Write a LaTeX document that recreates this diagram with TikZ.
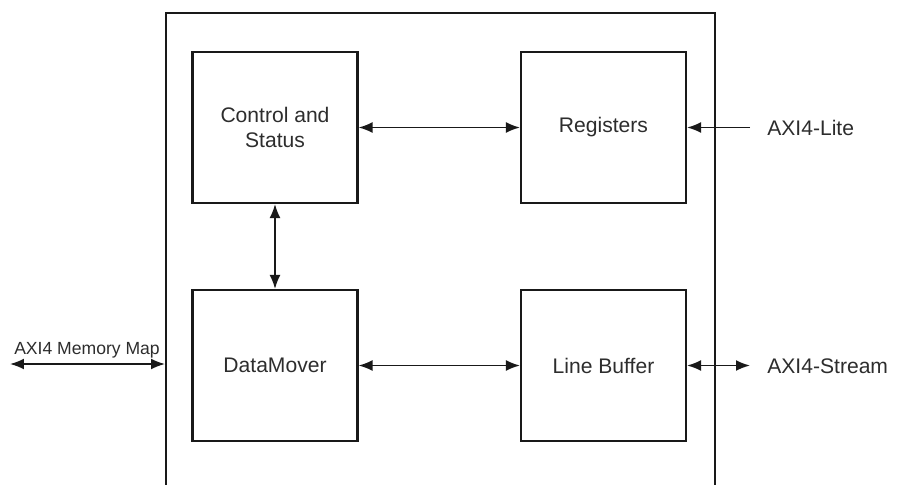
\documentclass[tikz,border=0pt]{standalone}
\usepackage{fontspec}
\setmainfont{Liberation Sans}
\usetikzlibrary{arrows.meta}

\definecolor{axiline}{RGB}{25, 25, 25}
\definecolor{axitext}{RGB}{45, 45, 45}

\begin{document}
\begin{tikzpicture}[
    x=0.02cm, y=-0.02cm,
    font=\fontsize{12}{14.4}\selectfont,
    text=axitext,
    block/.style={draw=axiline, line width=1.2pt, minimum width=3.3cm,
      minimum height=3.02cm, align=center},
    link/.style={draw=axiline, line width=1pt,
      >={Latex[length=2.8mm, width=2.2mm]}},
  ]
    \useasboundingbox (0, 0) rectangle (916, 484);

    % --- outer core frame, runs off the bottom edge ---
    \node[draw=axiline, line width=1.2pt, minimum width=10.98cm,
      minimum height=10.14cm] (core) at (440.5, 266.5) {};

    % --- inner blocks: 2x2 ---
    \node[block] (ctrl) at (275, 127.5) {Control and\\Status};
    \node[block] (regs) at (603.5, 127.5) {Registers};
    \node[block] (dm)   at (275, 365.5) {DataMover};
    \node[block] (lb)   at (603.5, 365.5) {Line Buffer};

    \draw[link, <->] (ctrl) -- (regs);
    \draw[link, <->] (ctrl) -- (dm);
    \draw[link, <->] (dm) -- (lb);

    % --- external interfaces ---
    \coordinate (liteIn) at (750, 127.5);
    \coordinate (strmOut) at (750, 365.5);
    \coordinate (mmOut) at (10, 364);
    \node[anchor=west, inner sep=0pt] (lite) at (767, 127.5) {AXI4-Lite};
    \node[anchor=west, inner sep=0pt] (strm) at (767, 366) {AXI4-Stream};
    \node[font=\fontsize{10}{12}\selectfont, inner sep=0pt] (mm) at (87, 350)
      {AXI4 Memory Map};

    \draw[link, ->] (liteIn) -- (regs.east);
    \draw[link, <->] (lb.east) -- (strmOut);
    \draw[link, <->] (mmOut) -- (mmOut -| core.west);
  \end{tikzpicture}
\end{document}
